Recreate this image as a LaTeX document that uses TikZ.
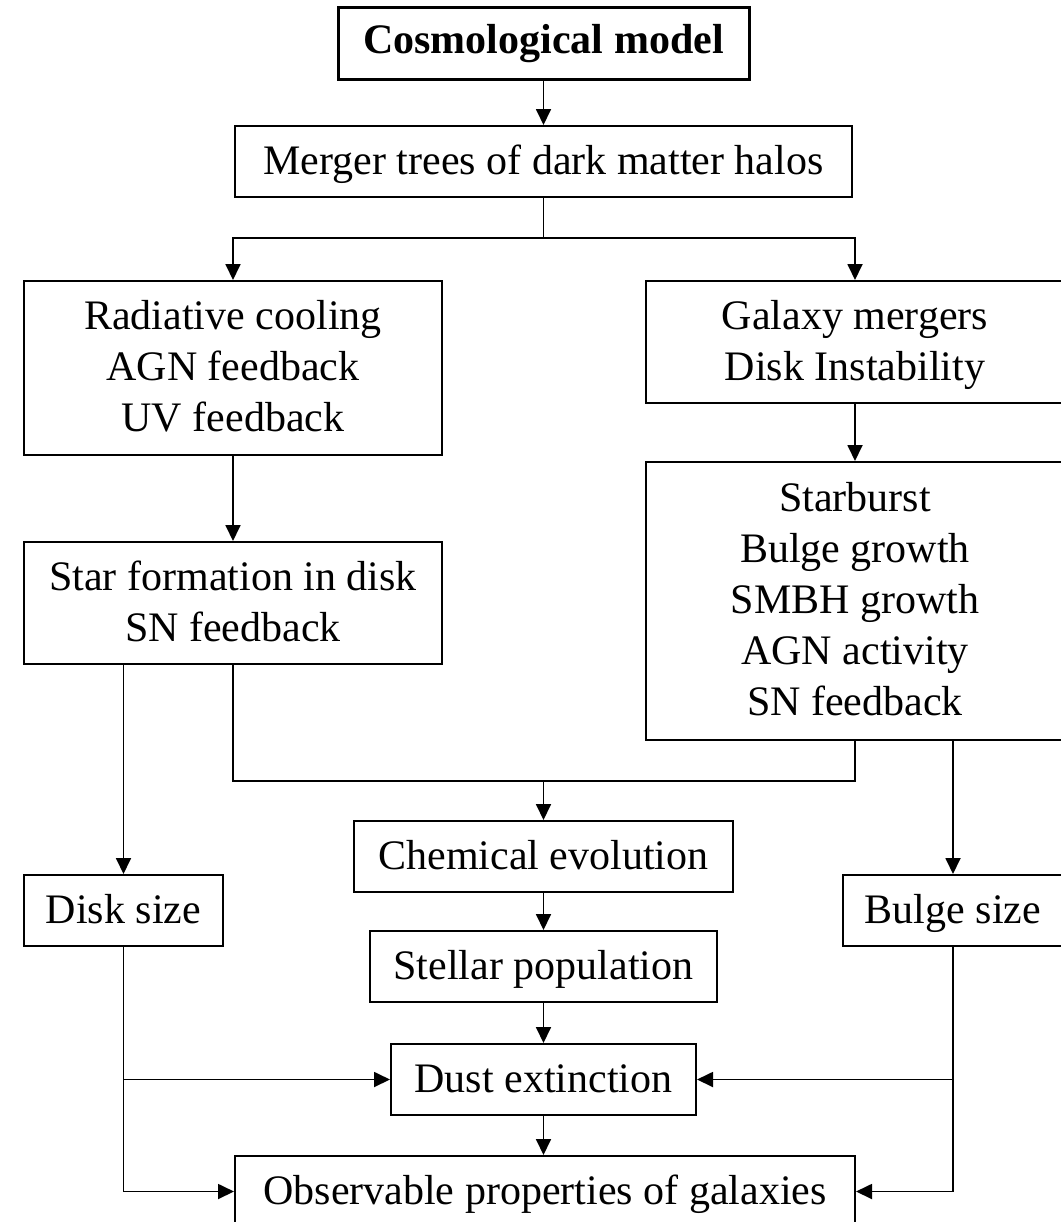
\documentclass[tikz,border=0pt]{standalone}
\usepackage{fontspec}
\setmainfont{Liberation Serif}
\usetikzlibrary{arrows.meta}
\newcommand{\lastd}{\rule[-2pt]{0pt}{0pt}}
\begin{document}
\begin{tikzpicture}[x=0.5pt,y=-0.5pt,
  box/.style={draw, line width=1pt, inner sep=0pt, align=center,
              font=\fontsize{21pt}{25.5pt}\selectfont},
  one/.style={text height=14.5pt, text depth=2pt},
  sz/.style 2 args={minimum width=#1*0.5pt, minimum height=#2*0.5pt},
  arr/.style={line width=0.9pt, -{Triangle[length=8pt,width=7.5pt]}},
  ln/.style={line width=0.9pt}]
\useasboundingbox (0,0) rectangle (1061,1222);

\node[box, one, line width=1.5pt, sz={411}{72},
      font=\fontsize{21pt}{25.5pt}\selectfont\bfseries, text depth=4.5pt]
      (cosmo) at (543.5,43) {Cosmological model};
\node[box, one, sz={617}{71}] (merger) at (543.5,161.5) {Merger trees of dark matter halos};
\node[box, sz={418}{174}] (radiative) at (233,368)
      {Radiative cooling\\AGN feedback\\UV feedback\lastd};
\node[box, sz={418}{122}] (galaxy) at (855,342)
      {Galaxy mergers\\\smash{Disk Instability}\lastd};
\node[box, sz={418}{278}] (starburst) at (855,601)
      {Starburst\\Bulge growth\\SMBH growth\\AGN activity\\SN feedback\lastd};
\node[box, sz={418}{122}] (starform) at (233,603)
      {Star formation in disk\\SN feedback\lastd};
\node[box, one, sz={379}{71}] (chem) at (543.5,856.5) {Chemical evolution};
\node[box, one, sz={199}{71}] (disksize) at (123.5,910.5) {Disk size};
\node[box, one, sz={220}{71}] (bulge) at (953,910.5) {Bulge size};
\node[box, one, sz={347}{71}] (stellar) at (543.5,966.5) {Stellar population};
\node[box, one, sz={305}{71}] (dust) at (543.5,1079.5) {Dust extinction};
\node[box, one, sz={620}{71}] (obs) at (545,1191.5) {Observable properties of galaxies};

\coordinate (split) at (543.5,238);
\coordinate (mj) at (543.5,781);

\draw[arr] (cosmo) -- (merger);
\draw[ln] (merger.south) -- (split);
\draw[arr] (split) -| (radiative.north);
\draw[arr] (split) -| (galaxy.north);
\draw[arr] (radiative) -- (starform);
\draw[arr] (galaxy) -- (starburst);
\draw[arr] (starform.south -| disksize.north) -- (disksize.north);
\draw[ln] (starform.south) |- (mj) -| (starburst.south);
\draw[arr] (mj) -- (chem);
\draw[arr] (starburst.south -| bulge.north) -- (bulge.north);
\draw[arr] (chem) -- (stellar);
\draw[arr] (stellar) -- (dust);
\draw[arr] (dust.south) -- (dust.south |- obs.north);
\draw[arr] (disksize.south) |- (obs.west);
\draw[arr] (disksize.south |- dust.west) -- (dust.west);
\draw[arr] (bulge.south) |- (obs.east);
\draw[arr] (bulge.south |- dust.east) -- (dust.east);
\end{tikzpicture}
\end{document}
